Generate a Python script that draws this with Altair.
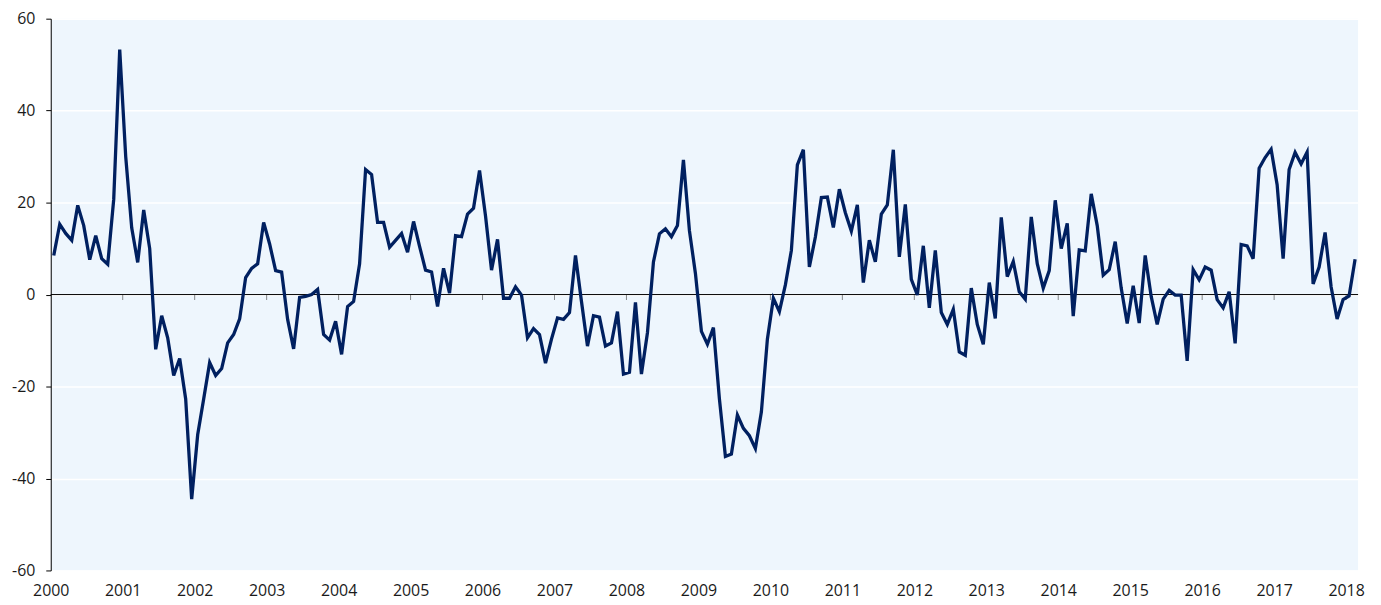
import altair as alt
import pandas as pd

# Monthly values, Jan 2000 .. Feb 2018
values = [
    8.5, 15.3, 13.3, 11.8, 19.4, 15.0, 7.6, 12.8, 7.8, 6.6, 20.7, 53.3,
    30.0, 14.5, 7.0, 18.4, 10.0, -11.9, -4.6, -9.4, -17.6, -13.9, -22.7, -44.5,
    -30.5, -22.7, -14.8, -17.6, -16.1, -10.5, -8.7, -5.3, 3.7, 5.7, 6.7, 15.7,
    11.0, 5.2, 4.9, -5.4, -11.8, -0.6, -0.4, 0.0, 1.1, -8.7, -9.9, -5.8,
    -13.0, -2.6, -1.5, 6.7, 27.2, 26.1, 15.7, 15.7, 10.3, 11.8, 13.3, 9.2,
    15.9, 10.5, 5.3, 4.9, -2.6, 5.7, 0.3, 12.8, 12.6, 17.5, 18.8, 27.0,
    17.1, 5.3, 12.0, -0.8, -0.8, 1.7, -0.1, -9.4, -7.4, -8.7, -14.9, -9.7,
    -5.1, -5.4, -3.9, 8.5, -1.5, -11.2, -4.6, -4.9, -11.2, -10.5, -3.7, -17.3,
    -16.9, -1.7, -17.3, -8.3, 7.1, 13.2, 14.3, 12.6, 15.0, 29.3, 13.9, 4.6,
    -8.0, -10.8, -7.2, -22.7, -35.2, -34.7, -26.2, -29.1, -30.7, -33.5, -25.5, -9.7,
    -0.8, -3.7, 2.1, 9.6, 28.2, 31.5, 6.0, 12.5, 21.1, 21.2, 14.6, 22.9,
    17.8, 13.8, 19.5, 2.6, 11.8, 7.1, 17.5, 19.5, 31.5, 8.2, 19.6, 3.3,
    -0.1, 10.6, -2.9, 9.6, -3.9, -6.5, -3.2, -12.5, -13.2, 1.4, -6.5, -10.8,
    2.6, -5.2, 16.8, 3.9, 7.2, 0.6, -1.0, 16.9, 6.7, 1.4, 5.2, 20.5,
    10.0, 15.5, -4.7, 9.7, 9.5, 21.9, 15.0, 4.2, 5.4, 11.5, 1.4, -6.3,
    1.9, -6.2, 8.5, -0.4, -6.5, -1.0, 0.9, -0.1, -0.1, -14.4, 5.4, 3.2,
    6.0, 5.3, -1.1, -2.9, 0.6, -10.6, 10.9, 10.6, 7.8, 27.5, 29.8, 31.6,
    23.9, 7.8, 27.2, 30.9, 28.4, 31.0, 2.3, 6.0, 13.5, 1.7, -5.3, -1.1,
    -0.3, 7.7,
]
years = list(range(2000, 2019))
y_ticks = [-60, -40, -20, 0, 20, 40, 60]

# month position (mid-month) counted from Jan 2000
df = pd.DataFrame({"m": [i + 0.5 for i in range(len(values))], "value": values})
tick_df = pd.DataFrame({"m": [(y - 2000) * 12 for y in years[1:]]})
zero_df = pd.DataFrame({"v": [0]})

n_months = len(values)

x_scale = alt.Scale(domain=[0, n_months], nice=False, zero=False)
y_scale = alt.Scale(domain=[-60, 60], nice=False)

x_axis = alt.Axis(
    values=[(y - 2000) * 12 for y in years],
    labelExpr="toString(2000 + datum.value / 12)",
    domain=False, ticks=False, grid=False, title=None,
    labelPadding=12, labelFontSize=16, labelFlush=False,
)
y_axis = alt.Axis(
    values=y_ticks, grid=True, gridColor="#ffffff", gridWidth=1.5,
    domainColor="#000000", tickColor="#000000", tickSize=5,
    labelExpr="toString(datum.value)",
    labelPadding=11, labelFontSize=16, title=None,
)

line = alt.Chart(df).mark_line(color="#002060", strokeWidth=3.3).encode(
    x=alt.X("m:Q", scale=x_scale, axis=x_axis),
    y=alt.Y("value:Q", scale=y_scale, axis=y_axis),
)

zero = alt.Chart(zero_df).mark_rule(color="#000000", strokeWidth=1).encode(
    y=alt.Y("v:Q", scale=y_scale)
)

ticks = alt.Chart(tick_df).mark_tick(
    orient="vertical", size=5, thickness=1, yOffset=3, color="#555555"
).encode(
    x=alt.X("m:Q", scale=x_scale),
    y=alt.datum(0),
)

chart = alt.layer(zero, ticks, line).properties(
    width=1315,
    height=555,
    autosize=alt.AutoSizeParams(type="none"),
    padding={"left": 43, "top": 9, "right": 15, "bottom": 30},
).configure_view(
    fill="#EEF6FD", stroke=None
).configure_axis(
    labelFont="Open Sans", labelColor="#1a1a1a"
)

chart.save("out.html", embed_options={"renderer": "svg", "actions": False})
